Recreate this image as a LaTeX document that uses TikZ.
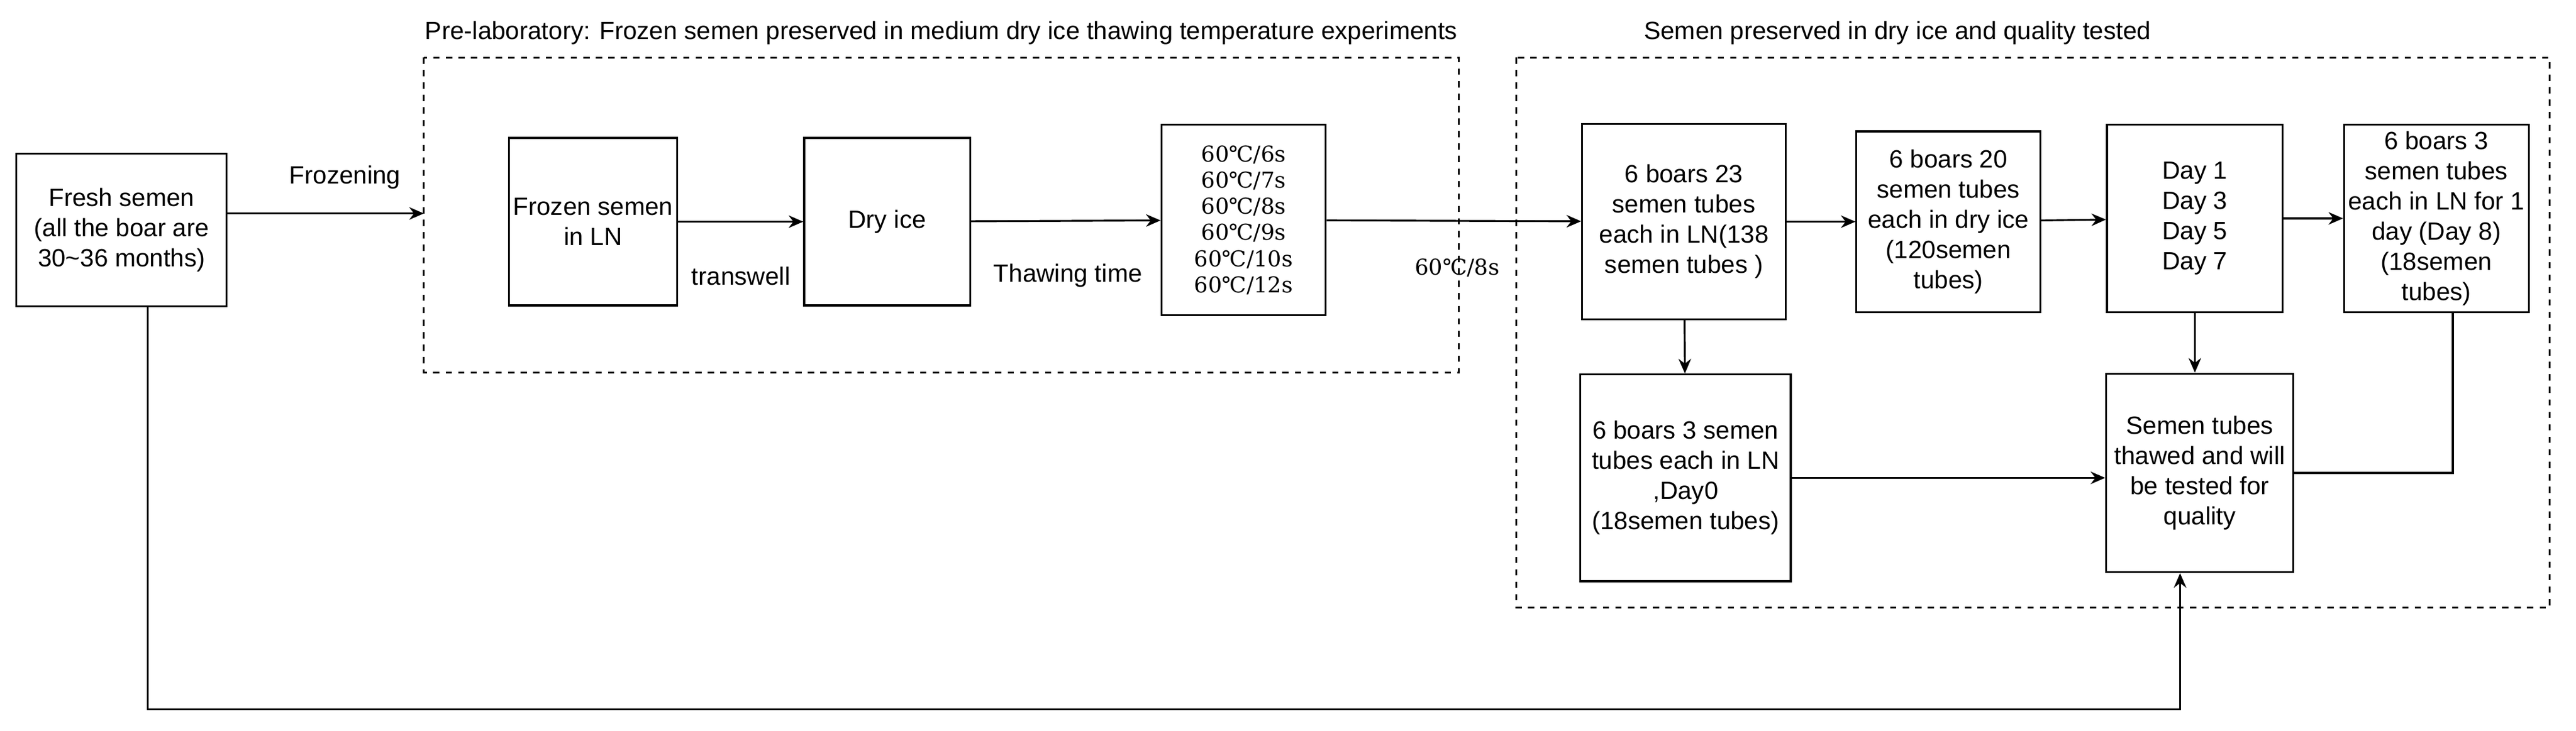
\documentclass[tikz,border=0pt]{standalone}
\usepackage{fontspec}
\setmainfont{Liberation Sans}
\newfontfamily\tempfont{DejaVu Serif}
\usetikzlibrary{arrows.meta}
\tikzstyle{box}=[draw,line width=0.9pt,align=center,inner sep=2pt,font=\fontsize{12}{14.5}\selectfont]
\tikzstyle{frame}=[draw,dashed,line width=0.9pt]
\tikzstyle{lbl}=[font=\fontsize{12}{14.5}\selectfont]
\tikzstyle{flow}=[-{Stealth[length=7pt,width=6pt]},line width=0.9pt]
\begin{document}
\begin{tikzpicture}[x=0.2774mm,y=-0.2774mm]
  \useasboundingbox (0,0) rectangle (1568,445);

  % FRAMES
  \draw[frame] (258,35) rectangle (888,227);
  \node[lbl] (t1) at (573,20) {Pre-laboratory: Frozen semen preserved in medium dry ice thawing temperature experiments};
  \draw[frame] (923,35) rectangle (1552,370);
  \node[lbl] (t2) at (1155,20) {Semen preserved in dry ice and quality tested};
  \coordinate (f1) at (258,130);

  % BOXES
  \node[box,minimum width=128*0.2774mm,minimum height=93*0.2774mm] (fresh) at (74,140) {Fresh semen\\(all the boar are\\30\textasciitilde36 months)};
  \node[box,minimum width=102*0.2774mm,minimum height=102*0.2774mm] (ln) at (361,135) {Frozen semen\\in LN};
  \node[box,minimum width=101*0.2774mm,minimum height=102*0.2774mm] (ice) at (540,135) {Dry ice};
  \node[box,minimum width=100*0.2774mm,minimum height=116*0.2774mm,font=\tempfont\fontsize{10.5}{12.6}\selectfont] (temp) at (757,134)
    {60℃/6s\\60℃/7s\\60℃/8s\\60℃/9s\\60℃/10s\\60℃/12s};
  \node[box,minimum width=124*0.2774mm,minimum height=119*0.2774mm] (a) at (1025,135) {6 boars 23\\semen tubes\\each in LN(138\\semen tubes )};
  \node[box,minimum width=112*0.2774mm,minimum height=110*0.2774mm] (b) at (1186,135) {6 boars 20\\semen tubes\\each in dry ice\\(120semen\\tubes)};
  \node[box,minimum width=107*0.2774mm,minimum height=114*0.2774mm] (c) at (1336,133) {Day 1\\Day 3\\Day 5\\Day 7};
  \node[box,minimum width=111*0.2774mm,minimum height=114*0.2774mm] (d) at (1483,133) {6 boars 3\\semen tubes\\each in LN for 1\\day (Day 8)\\(18semen\\tubes)};
  \node[box,minimum width=128*0.2774mm,minimum height=126*0.2774mm] (e) at (1026,291) {6 boars 3 semen\\tubes each in LN\\,Day0\\(18semen tubes)};
  \node[box,minimum width=114*0.2774mm,minimum height=121*0.2774mm] (f) at (1339,288) {Semen tubes\\thawed and will\\be tested for\\quality};

  % LABELS
  \node[lbl] (frz) at (210,108) {Frozening};
  \node[lbl] (tw) at (451,168) {transwell};
  \node[lbl] (th) at (650,168) {Thawing time};
  \node[lbl,font=\tempfont\fontsize{10.5}{12}\selectfont] (sel) at (887,163) {60℃/8s};

  % ARROWS
  \draw[flow] (fresh.east|-f1) -- (f1);
  \draw[flow] (ln) -- (ice);
  \draw[flow] (ice) -- (temp);
  \draw[flow] (temp) -- (a);
  \draw[flow] (a) -- (b);
  \draw[flow] (b) -- (c);
  \draw[flow] (c) -- (d);
  \draw[flow] (a) -- (e);
  \draw[flow] (c) -- (c|-f.north);
  \draw[flow] (e.east) -- (f.west|-e.east);
  \draw[line width=0.9pt] ([xshift=10*0.2774mm]d.south) |- (f.east);
  \draw[flow] ([xshift=16*0.2774mm]fresh.south) |- (1327,432) -- ([xshift=-12*0.2774mm]f.south);
\end{tikzpicture}
\end{document}
